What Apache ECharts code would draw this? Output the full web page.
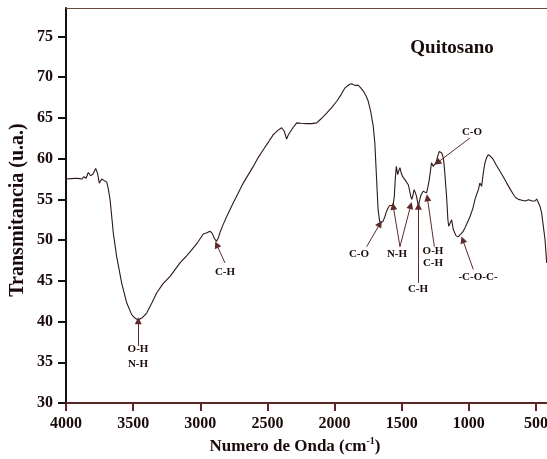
<!DOCTYPE html>
<html>
<head>
<meta charset="utf-8">
<script src="https://cdn.jsdelivr.net/npm/echarts@6/dist/echarts.min.js"></script>
<style>
html,body{margin:0;padding:0;background:#fff;}
#chart{width:547px;height:459px;}
</style>
</head>
<body>
<div id="chart"></div>
<script>
// ---- data ----
const wavenumber = [4000,3960,3920,3900,3883,3866,3850,3834,3816,3800,3779,3765,3752,3734,3715,3697,3685,3672,3660,3648,3623,3585,3548,3511,3485,3462,3430,3399,3360,3325,3280,3225,3151,3100,3064,3020,2978,2950,2928,2910,2895,2879,2865,2854,2830,2803,2754,2720,2680,2640,2605,2570,2531,2490,2456,2420,2394,2375,2357,2345,2332,2310,2282,2250,2208,2170,2133,2100,2059,2020,1984,1950,1922,1890,1872,1850,1823,1805,1786,1765,1749,1730,1712,1700,1688,1676,1665,1658,1650,1639,1625,1614,1600,1589,1575,1564,1555,1548,1540,1530,1522,1513,1503,1493,1475,1451,1440,1433,1425,1415,1408,1398,1390,1376,1365,1355,1340,1328,1315,1305,1295,1278,1265,1250,1241,1230,1220,1210,1202,1190,1181,1166,1156,1150,1140,1128,1116,1096,1080,1066,1045,1029,1010,991,970,954,940,929,918,905,892,880,868,855,840,818,795,768,745,718,690,668,650,631,605,582,555,530,507,495,482,470,458,445,433,420];
const transmittance = [57.5,57.55,57.6,57.55,57.5,57.8,57.6,58.3,57.9,58.1,58.8,58.2,57.0,57.5,57.3,57.15,56.3,55.0,53.0,50.9,48.0,44.7,42.3,40.85,40.4,40.2,40.5,41.05,42.3,43.5,44.6,45.55,47.2,48.1,48.8,49.7,50.75,50.9,51.1,50.8,50.2,49.85,50.3,50.9,51.9,52.9,54.6,55.7,57.0,58.1,59.05,60.1,61.1,62.1,62.95,63.5,63.8,63.4,62.4,62.9,62.95,63.8,64.4,64.35,64.3,64.3,64.4,64.9,65.6,66.3,67.05,67.9,68.7,69.1,69.2,69.0,69.0,68.7,68.3,67.7,67.05,65.7,64.0,61.9,57.8,53.75,52.4,52.1,52.2,52.3,52.9,53.5,54.0,54.25,54.3,54.25,55.4,57.5,59.05,58.05,58.5,58.9,58.2,57.8,57.4,56.8,56.0,55.4,55.0,55.6,56.2,55.8,55.4,54.15,55.0,55.6,56.0,56.0,55.8,56.5,57.4,59.5,59.05,59.4,59.7,60.4,60.9,60.9,60.7,60.1,58.65,55.4,52.5,51.7,51.9,52.5,51.3,50.55,50.4,50.55,51.0,51.5,52.2,52.9,53.9,55.0,55.7,56.2,57.0,56.6,58.3,59.5,60.1,60.5,60.3,59.9,59.2,58.45,57.8,57.0,56.2,55.6,55.2,55.0,54.9,54.8,54.95,54.8,54.8,55.05,55.0,54.15,53.35,53.5,50.1,47.2];

const xTickValues = [4000,3500,3000,2500,2000,1500,1000,500];
const yTickValues = [30,35,40,45,50,55,60,65,70,75];

// band assignments: arrow tail -> arrow tip (data units)
const arrowTails = [[3462,37.0],[2816,47.2],[1761,49.2],[1513,49.2],[1513,49.2],[1376,44.75],[1257,49.2],[991,62.55],[967,46.4]];
const arrowTips  = [[3462,40.1],[2878,49.45],[1662,52.0],[1563,54.15],[1433,54.25],[1376,54.15],[1309,55.2],[1235,59.5],[1046,50.05]];
const bandLabels = ['O-H\nN-H','C-H','C-O','N-H','O-H\nC-H','C-H','-C-O-C-','C-O'];

const FONT = '"Liberation Serif", "Times New Roman", serif';
const INK = '#1a0a0a';

const chart = echarts.init(document.getElementById('chart'), null, {renderer:'canvas'});

const lineData = wavenumber.map((w,i)=>[w, transmittance[i]]);
const arrowData = arrowTails.map((t,i)=>[{coord:t},{coord:arrowTips[i]}]);

function txt(text, x, y, size, lh, extra){
  return Object.assign({
    type:'text', x:x, y:y, silent:true, z:100,
    style:{text:text, fill:INK, font:'bold '+size+'px '+FONT, textAlign:'center', textVerticalAlign:'middle', lineHeight:lh||size}
  }, extra||{});
}

chart.setOption({
  animation:false,
  backgroundColor:'#ffffff',
  grid:{left:66, right:0, top:8, bottom:56, containLabel:false, outerBoundsMode:'none'},
  xAxis:[{
    type:'value', inverse:true, min:418, max:4000, position:'bottom',
    axisLine:{show:true, onZero:false, lineStyle:{color:'#5a2626', width:2}},
    axisTick:{show:true, customValues:xTickValues, length:8, inside:false, lineStyle:{color:'#5a2626', width:2}},
    axisLabel:{customValues:xTickValues, margin:13, fontFamily:FONT, fontWeight:'bold', fontSize:16, color:INK, formatter:function(v){return String(v);}},
    splitLine:{show:false}
  },{
    type:'value', inverse:true, min:418, max:4000, position:'top',
    axisLine:{show:true, onZero:false, lineStyle:{color:'#6b4a3a', width:1}},
    axisTick:{show:false}, axisLabel:{show:false}, splitLine:{show:false}
  }],
  yAxis:{
    type:'value', min:30, max:78.5,
    axisLine:{show:true, onZero:false, lineStyle:{color:'#111111', width:2}},
    axisTick:{show:true, customValues:yTickValues, length:8, lineStyle:{color:'#111111', width:2}},
    axisLabel:{customValues:yTickValues, margin:13, fontFamily:FONT, fontWeight:'bold', fontSize:16, color:INK, formatter:function(v){return String(v);}},
    splitLine:{show:false}
  },
  series:[{
    type:'line', xAxisIndex:0, data:lineData, showSymbol:false, smooth:false,
    lineStyle:{color:'#2e1818', width:1.1},
    markLine:{
      silent:true, symbol:['none','triangle'], symbolSize:7,
      lineStyle:{color:'#5e2a2a', width:1, type:'solid'},
      label:{show:false}, emphasis:{disabled:true},
      data:arrowData
    }
  }],
  graphic:[
    txt('Quitosano', 452, 48, 19),
    txt(bandLabels[0], 138, 357, 11, 15),
    txt(bandLabels[1], 225, 272, 11),
    txt(bandLabels[2], 359, 254, 11),
    txt(bandLabels[3], 397, 254, 11),
    txt(bandLabels[4], 433, 257, 11, 12),
    txt(bandLabels[5], 418, 289, 11),
    txt(bandLabels[6], 478, 277, 11),
    txt(bandLabels[7], 472, 132, 11),
    {
      type:'text', x:295, y:447, silent:true,
      style:{
        text:'{a|Numero de Onda (cm}{s|-1}{a|)}',
        textAlign:'center', textVerticalAlign:'middle',
        rich:{
          a:{fontFamily:FONT, fontWeight:'bold', fontSize:17, fill:INK, color:INK, lineHeight:22},
          s:{fontFamily:FONT, fontWeight:'bold', fontSize:10, fill:INK, color:INK, verticalAlign:'top', lineHeight:22, padding:[0,0,10,0]}
        }
      }
    },
    txt('Transmitancia (u.a.)', 18, 210, 20, 20, {rotation:Math.PI/2})
  ]
});
</script>
</body>
</html>
